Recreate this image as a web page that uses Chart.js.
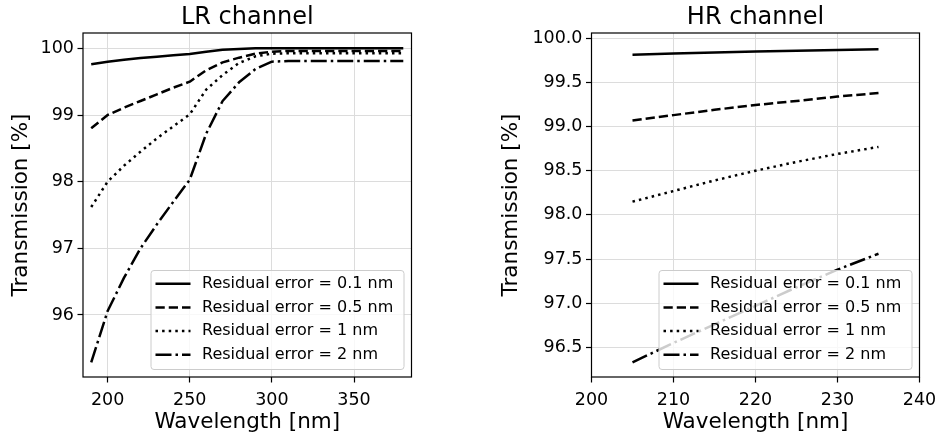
<!DOCTYPE html>
<html>
<head>
<meta charset="utf-8">
<script src="https://cdn.jsdelivr.net/npm/chart.js@4/dist/chart.umd.min.js"></script>
<style>
  html, body { margin: 0; padding: 0; background: #fff; }
  #wrap { position: relative; width: 940px; height: 435px; overflow: hidden; }
  canvas { position: absolute; top: 0; }
</style>
</head>
<body>
<div id="wrap">
  <canvas id="lr" width="470" height="435" style="left:0"></canvas>
  <canvas id="hr" width="470" height="435" style="left:470px"></canvas>
</div>
<script>
// ---- data -----------------------------------------------------------
const SERIES_LABELS = [
  'Residual error = 0.1 nm',
  'Residual error = 0.5 nm',
  'Residual error = 1 nm',
  'Residual error = 2 nm'
];

// LR channel: transmission [%] vs wavelength [nm]
const LR_WAVELENGTH = [190, 200, 210, 220, 230, 240, 250, 260, 270, 280,
                       290, 300, 310, 320, 330, 340, 350, 360, 370, 380];
const LR_T_01 = [99.76, 99.80, 99.83, 99.855, 99.875, 99.895, 99.915, 99.95, 99.98, 99.99,
                 100.0, 100.0, 100.0, 100.0, 100.0, 100.0, 100.0, 100.0, 100.0, 100.0];
const LR_T_05 = [98.80, 99.00, 99.11, 99.21, 99.31, 99.41, 99.50, 99.67, 99.79, 99.86,
                 99.92, 99.95, 99.96, 99.96, 99.96, 99.96, 99.96, 99.96, 99.96, 99.96];
const LR_T_1  = [97.62, 98.00, 98.24, 98.45, 98.65, 98.83, 99.01, 99.38, 99.60, 99.78,
                 99.88, 99.92, 99.925, 99.925, 99.925, 99.925, 99.925, 99.925, 99.925, 99.925];
const LR_T_2  = [95.29, 96.06, 96.56, 97.00, 97.36, 97.70, 98.03, 98.72, 99.21, 99.49,
                 99.69, 99.80, 99.81, 99.81, 99.81, 99.81, 99.81, 99.81, 99.81, 99.81];

// HR channel
const HR_WAVELENGTH = [205, 210, 215, 220, 225, 230, 235];
const HR_T_01 = [99.815, 99.828, 99.84, 99.85, 99.86, 99.868, 99.875];
const HR_T_05 = [99.07, 99.13, 99.19, 99.245, 99.29, 99.34, 99.38];
const HR_T_1  = [98.15, 98.27, 98.39, 98.50, 98.60, 98.69, 98.77];
const HR_T_2  = [96.33, 96.55, 96.76, 96.97, 97.18, 97.38, 97.56];

// tick positions
const LR_X_TICKS = [200, 250, 300, 350];
const LR_Y_TICKS = [96, 97, 98, 99, 100];
const HR_X_TICKS = [200, 210, 220, 230, 240];
const HR_Y_TICKS = [96.5, 97.0, 97.5, 98.0, 98.5, 99.0, 99.5, 100.0];

// ---- styling --------------------------------------------------------
const FONT = "'DejaVu Sans', 'Liberation Sans', sans-serif";
const LW = 2.5;
const DASHES = [[], [9.25, 4], [2.5, 4.1], [16, 4, 2.5, 4]];

// Axes frame plus a legend box drawn inside the plot area (above the lines)
const framePlusLegend = {
  id: 'insetLegend',
  afterDatasetsDraw(chart) {
    const { ctx, chartArea: a } = chart;
    ctx.save();
    ctx.strokeStyle = '#000';
    ctx.lineWidth = 1.2;
    ctx.strokeRect(a.left, a.top, a.right - a.left, a.bottom - a.top);

    const w = 253, h = 99, pad = 8, r = 3;
    const x0 = a.right - pad - w, y0 = a.bottom - pad - h;
    ctx.beginPath();
    ctx.roundRect(x0 + 0.5, y0 + 0.5, w, h, r);
    ctx.fillStyle = 'rgba(255,255,255,0.8)';
    ctx.fill();
    ctx.strokeStyle = '#cccccc';
    ctx.lineWidth = 1;
    ctx.stroke();

    ctx.font = '16px ' + FONT;
    ctx.textBaseline = 'middle';
    ctx.textAlign = 'left';
    chart.data.datasets.forEach((ds, i) => {
      const yy = y0 + 13.7 + i * 23.7;
      ctx.beginPath();
      ctx.setLineDash(ds.borderDash || []);
      ctx.lineWidth = LW;
      ctx.lineCap = 'butt';
      ctx.strokeStyle = '#000';
      ctx.moveTo(x0 + 5, yy);
      ctx.lineTo(x0 + 40, yy);
      ctx.stroke();
      ctx.setLineDash([]);
      ctx.fillStyle = '#000';
      ctx.fillText(ds.label, x0 + 51.5, yy);
    });
    ctx.restore();
  }
};

function makePanel(id, cfg) {
  const datasets = cfg.series.map((s, i) => ({
    label: SERIES_LABELS[i],
    data: cfg.x.map((x, k) => ({ x: x, y: s[k] })),
    borderColor: '#000',
    borderWidth: LW,
    borderDash: DASHES[i],
    borderJoinStyle: 'round',
    pointRadius: 0,
    fill: false,
    tension: 0
  }));
  const gridOpts = { color: '#dcdcdc', lineWidth: 1, tickLength: 5.5, tickColor: '#000', tickWidth: 1.2 };
  return new Chart(document.getElementById(id), {
    type: 'line',
    data: { datasets },
    options: {
      responsive: false,
      animation: false,
      events: [],
      layout: { padding: { left: 0, right: cfg.padRight, top: 0, bottom: 0 } },
      plugins: {
        legend: { display: false },
        tooltip: { enabled: false },
        title: {
          display: true, text: cfg.title, fullSize: false, color: '#000',
          font: { family: FONT, size: 24, weight: 'normal', lineHeight: 1.2 },
          padding: { top: 3, bottom: 1.2 }
        }
      },
      scales: {
        x: {
          type: 'linear', min: cfg.xMin, max: cfg.xMax,
          // fixed axis band; edge tick labels must not shrink the plot area
          afterFit: s => { s.height = 58; s.paddingLeft = 0; s.paddingRight = 0; },
          afterBuildTicks: s => { s.ticks = cfg.xTicks.map(v => ({ value: v })); },
          ticks: { color: '#000', font: { family: FONT, size: 17.5 }, padding: 7.5, maxRotation: 0,
                   callback: v => String(v) },
          grid: gridOpts,
          border: { display: false },
          title: { display: true, text: 'Wavelength [nm]', color: '#000',
                   font: { family: FONT, size: 21.5, lineHeight: 1.2 }, padding: { top: 0, bottom: 0 } }
        },
        y: {
          type: 'linear', min: cfg.yMin, max: cfg.yMax,
          afterFit: s => { s.width = cfg.yWidth; s.paddingTop = 0; s.paddingBottom = 0; },
          afterBuildTicks: s => { s.ticks = cfg.yTicks.map(v => ({ value: v })); },
          ticks: { color: '#000', font: { family: FONT, size: 17.5 }, padding: 3.5,
                   callback: v => v.toFixed(cfg.yDecimals) },
          grid: gridOpts,
          border: { display: false },
          title: { display: true, text: 'Transmission [%]', color: '#000',
                   font: { family: FONT, size: 21.5, lineHeight: 1.2 }, padding: { top: cfg.yTitlePad, bottom: 0 } }
        }
      }
    },
    plugins: [framePlusLegend]
  });
}

makePanel('lr', {
  title: 'LR channel',
  x: LR_WAVELENGTH,
  series: [LR_T_01, LR_T_05, LR_T_1, LR_T_2],
  xMin: 185, xMax: 385, yMin: 95.07, yMax: 100.23,
  xTicks: LR_X_TICKS, yTicks: LR_Y_TICKS, yDecimals: 0,
  yWidth: 83, padRight: 58.5, yTitlePad: 8.7
});

makePanel('hr', {
  title: 'HR channel',
  x: HR_WAVELENGTH,
  series: [HR_T_01, HR_T_05, HR_T_1, HR_T_2],
  xMin: 200, xMax: 240, yMin: 96.164, yMax: 100.06,
  xTicks: HR_X_TICKS, yTicks: HR_Y_TICKS, yDecimals: 1,
  yWidth: 121.5, padRight: 20.5, yTitlePad: 28.7
});
</script>
</body>
</html>
